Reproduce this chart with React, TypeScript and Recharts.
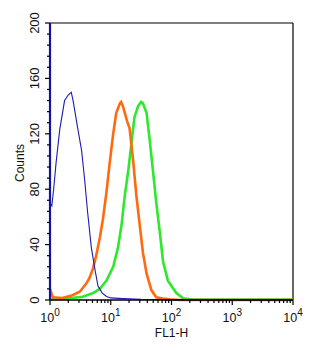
import React from 'react';
import { LineChart, Line, XAxis, YAxis, ReferenceLine, Label } from 'recharts';

// positions are log10(FL1-H), values are counts
const blueLog = [0, 0.03, 0.06, 0.1, 0.16, 0.24, 0.3, 0.35, 0.38, 0.46, 0.52, 0.57, 0.62, 0.68, 0.74, 0.79, 0.86, 0.93, 1.0, 1.2, 1.5, 2.0, 2.5, 4];
const blueCounts = [70, 68, 80, 99, 123, 144, 148, 150, 144, 123, 108, 87, 63, 38, 22, 10, 5, 2.5, 1.5, 1, 0.5, 0.3, 0, 0];

const orangeLog = [0, 0.046, 0.2, 0.37, 0.49, 0.6, 0.65, 0.71, 0.76, 0.82, 0.87, 0.93, 0.98, 1.04, 1.09, 1.15, 1.17, 1.2, 1.27, 1.31, 1.37, 1.42, 1.48, 1.53, 1.59, 1.67, 1.75, 1.86, 1.97, 2.14, 4];
const orangeCounts = [8, 2, 1.5, 3.5, 6, 12, 16, 23, 32, 45, 58, 78, 98, 120, 135, 142, 143, 140, 129, 124, 100, 76, 53, 34, 19, 7, 2, 1, 0.5, 0, 0];

const greenLog = [0, 0.27, 0.54, 0.71, 0.82, 0.93, 1.04, 1.12, 1.18, 1.23, 1.29, 1.34, 1.39, 1.45, 1.5, 1.53, 1.59, 1.64, 1.7, 1.75, 1.81, 1.86, 1.94, 2.08, 2.19, 2.36, 4];
const greenCounts = [0.5, 1, 2.4, 5, 8, 14, 24, 38, 55, 75, 94, 113, 132, 140, 143, 142, 135, 116, 91, 70, 48, 28, 14, 5, 1.2, 0.4, 0.3];

const yTicks = [0, 8, 16, 24, 32, 40, 48, 56, 64, 72, 80, 88, 96, 104, 112, 120, 128, 136, 144, 152, 160, 168, 176, 184, 192, 200];
const decades = [0, 1, 2, 3, 4];

const toData = (xs: number[], ys: number[]) => xs.map((x, i) => ({ x, y: ys[i] }));

const blueData = toData(blueLog, blueCounts);
const orangeData = toData(orangeLog, orangeCounts);
const greenData = toData(greenLog, greenCounts);

const xTicks: number[] = [];
decades.forEach((d) => {
  if (d === 4) {
    xTicks.push(4);
    return;
  }
  for (let k = 1; k <= 9; k++) xTicks.push(d + Math.log10(k));
});

const isWhole = (v: number) => Math.abs(v - Math.round(v)) < 1e-9;

const font = '"Liberation Sans", Arial, sans-serif';

const XTick = (props: any) => {
  const { x, y, payload } = props;
  const major = isWhole(payload.value);
  return (
    <g>
      <line x1={x} x2={x} y1={y} y2={y + (major ? 5 : 3)} stroke="#000" strokeWidth={1.2} />
      {major && (
        <text x={x} y={y + 22} textAnchor="middle" fontSize={12.5} fontFamily={font} fill="#111">
          <tspan>10</tspan>
          <tspan dy={-6} fontSize={10}>{Math.round(payload.value)}</tspan>
        </text>
      )}
    </g>
  );
};

const YTick = (props: any) => {
  const { x, y, payload } = props;
  const major = payload.value % 40 === 0;
  return (
    <g>
      <line x1={x} x2={x - (major ? 5 : 3)} y1={y} y2={y} stroke="#000" strokeWidth={1.2} />
      {major && (
        <text x={39} y={y} transform={`rotate(-90 39 ${y})`} textAnchor="middle" fontSize={13} fontFamily={font} fill="#111">
          {payload.value}
        </text>
      )}
    </g>
  );
};

const CountsLabel = () => (
  <text x={24} y={163} transform="rotate(-90 24 163)" textAnchor="middle" fontSize={12} fontFamily={font} fill="#111">
    Counts
  </text>
);

export default function App() {
  return (
    <div style={{ position: 'absolute', left: 0, top: 0, background: '#fff' }}>
      <LineChart width={327} height={350} margin={{ top: 23, right: 34, left: 0, bottom: 0 }}>
        <XAxis
          type="number"
          dataKey="x"
          domain={[0, 4]}
          ticks={xTicks}
          interval={0}
          height={50}
          tickSize={0}
          tickMargin={0}
          tick={<XTick />}
          axisLine={{ stroke: '#000', strokeWidth: 1.5 }}
          allowDuplicatedCategory={false}
        >
          <Label value="FL1-H" position="insideBottom" offset={13} fontSize={12} fontFamily={font} fill="#111" />
        </XAxis>
        <YAxis
          type="number"
          domain={[0, 200]}
          ticks={yTicks}
          interval={0}
          width={50}
          tickSize={0}
          tickMargin={0}
          tick={<YTick />}
          axisLine={{ stroke: '#1414a0', strokeWidth: 2.2 }}
        >
          <Label content={<CountsLabel />} />
        </YAxis>
        <ReferenceLine y={200} stroke="#000" strokeWidth={1.2} />
        <ReferenceLine x={4} stroke="#000" strokeWidth={1.2} />
        <Line data={greenData} dataKey="y" type="linear" stroke="#2ee82e" strokeWidth={2.6} dot={false} isAnimationActive={false} />
        <Line data={orangeData} dataKey="y" type="linear" stroke="#ff6a10" strokeWidth={2.6} dot={false} isAnimationActive={false} />
        <Line data={blueData} dataKey="y" type="linear" stroke="#1c1cb0" strokeWidth={1.1} dot={false} isAnimationActive={false} />
      </LineChart>
    </div>
  );
}
